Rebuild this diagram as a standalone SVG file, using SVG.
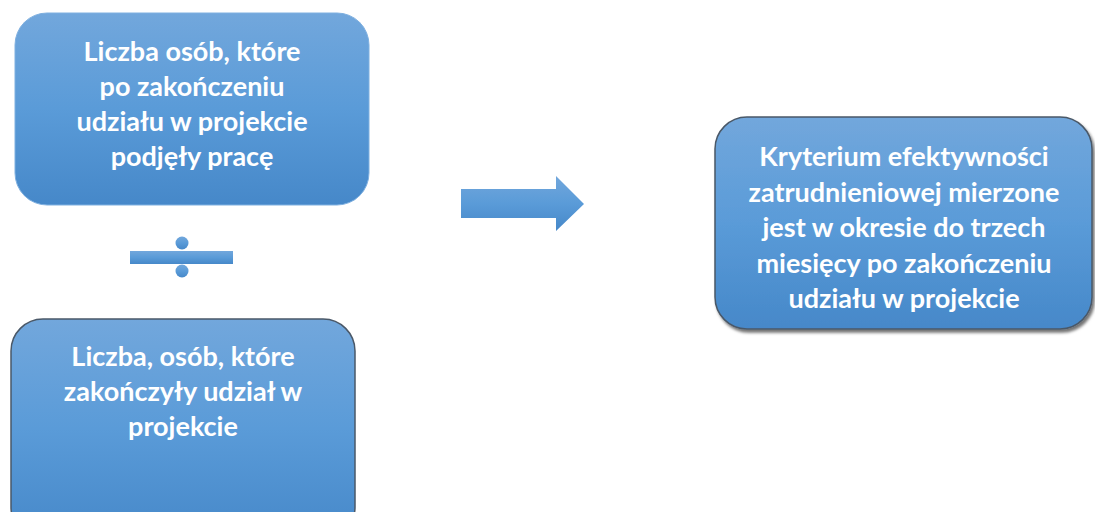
<svg xmlns="http://www.w3.org/2000/svg" width="1095" height="512" viewBox="0 0 1095 512">
  <defs>
    <linearGradient id="g" x1="0" y1="0" x2="0" y2="1">
      <stop offset="0" stop-color="#72a7dc"/>
      <stop offset="0.5" stop-color="#5a9bd8"/>
      <stop offset="1" stop-color="#4688c9"/>
    </linearGradient>
    <filter id="sh" x="-5%" y="-5%" width="110%" height="115%">
      <feDropShadow dx="2" dy="3" stdDeviation="1.5" flood-color="#000" flood-opacity="0.55"/>
    </filter>
  </defs>
  <style>
    .box { fill: url(#g); }
    .dark { stroke: #4a5868; stroke-width: 1.5; }
    .light { stroke: #7fb0e0; stroke-width: 1; }
    .t { font-family: Lato, "Open Sans", "Liberation Sans", sans-serif; font-weight: bold; font-size: 27px; fill: #ffffff; text-anchor: middle; }
    .sym { fill: url(#g); }
  </style>
  <g id="node1">
    <rect class="box light" x="15" y="13" width="354" height="192" rx="32"/>
    <text class="t" x="192" y="61">Liczba osób, które</text>
    <text class="t" x="192" y="96">po zakończeniu</text>
    <text class="t" x="192" y="131">udziału w projekcie</text>
    <text class="t" x="192" y="166">podjęły pracę</text>
  </g>
  <g id="divide">
    <rect class="sym" x="130" y="251" width="103" height="13"/>
    <circle class="sym" cx="182" cy="243" r="6.5"/>
    <circle class="sym" cx="182" cy="271" r="6.5"/>
  </g>
  <g id="node2">
    <rect class="box dark" x="11" y="319" width="344" height="220" rx="32"/>
    <text class="t" x="183" y="366">Liczba, osób, które</text>
    <text class="t" x="183" y="401">zakończyły udział w</text>
    <text class="t" x="183" y="436">projekcie</text>
  </g>
  <g id="connectors">
    <path class="sym" d="M461,189 L556,189 L556,176 L584,204 L556,231 L556,218 L461,218 Z"/>
  </g>
  <g id="node3">
    <rect class="box dark" x="715" y="117" width="377" height="212" rx="32" filter="url(#sh)"/>
    <text class="t" x="904" y="166">Kryterium efektywności</text>
    <text class="t" x="904" y="202">zatrudnieniowej mierzone</text>
    <text class="t" x="904" y="237">jest w okresie do trzech</text>
    <text class="t" x="904" y="273">miesięcy po zakończeniu</text>
    <text class="t" x="904" y="308">udziału w projekcie</text>
  </g>
</svg>
